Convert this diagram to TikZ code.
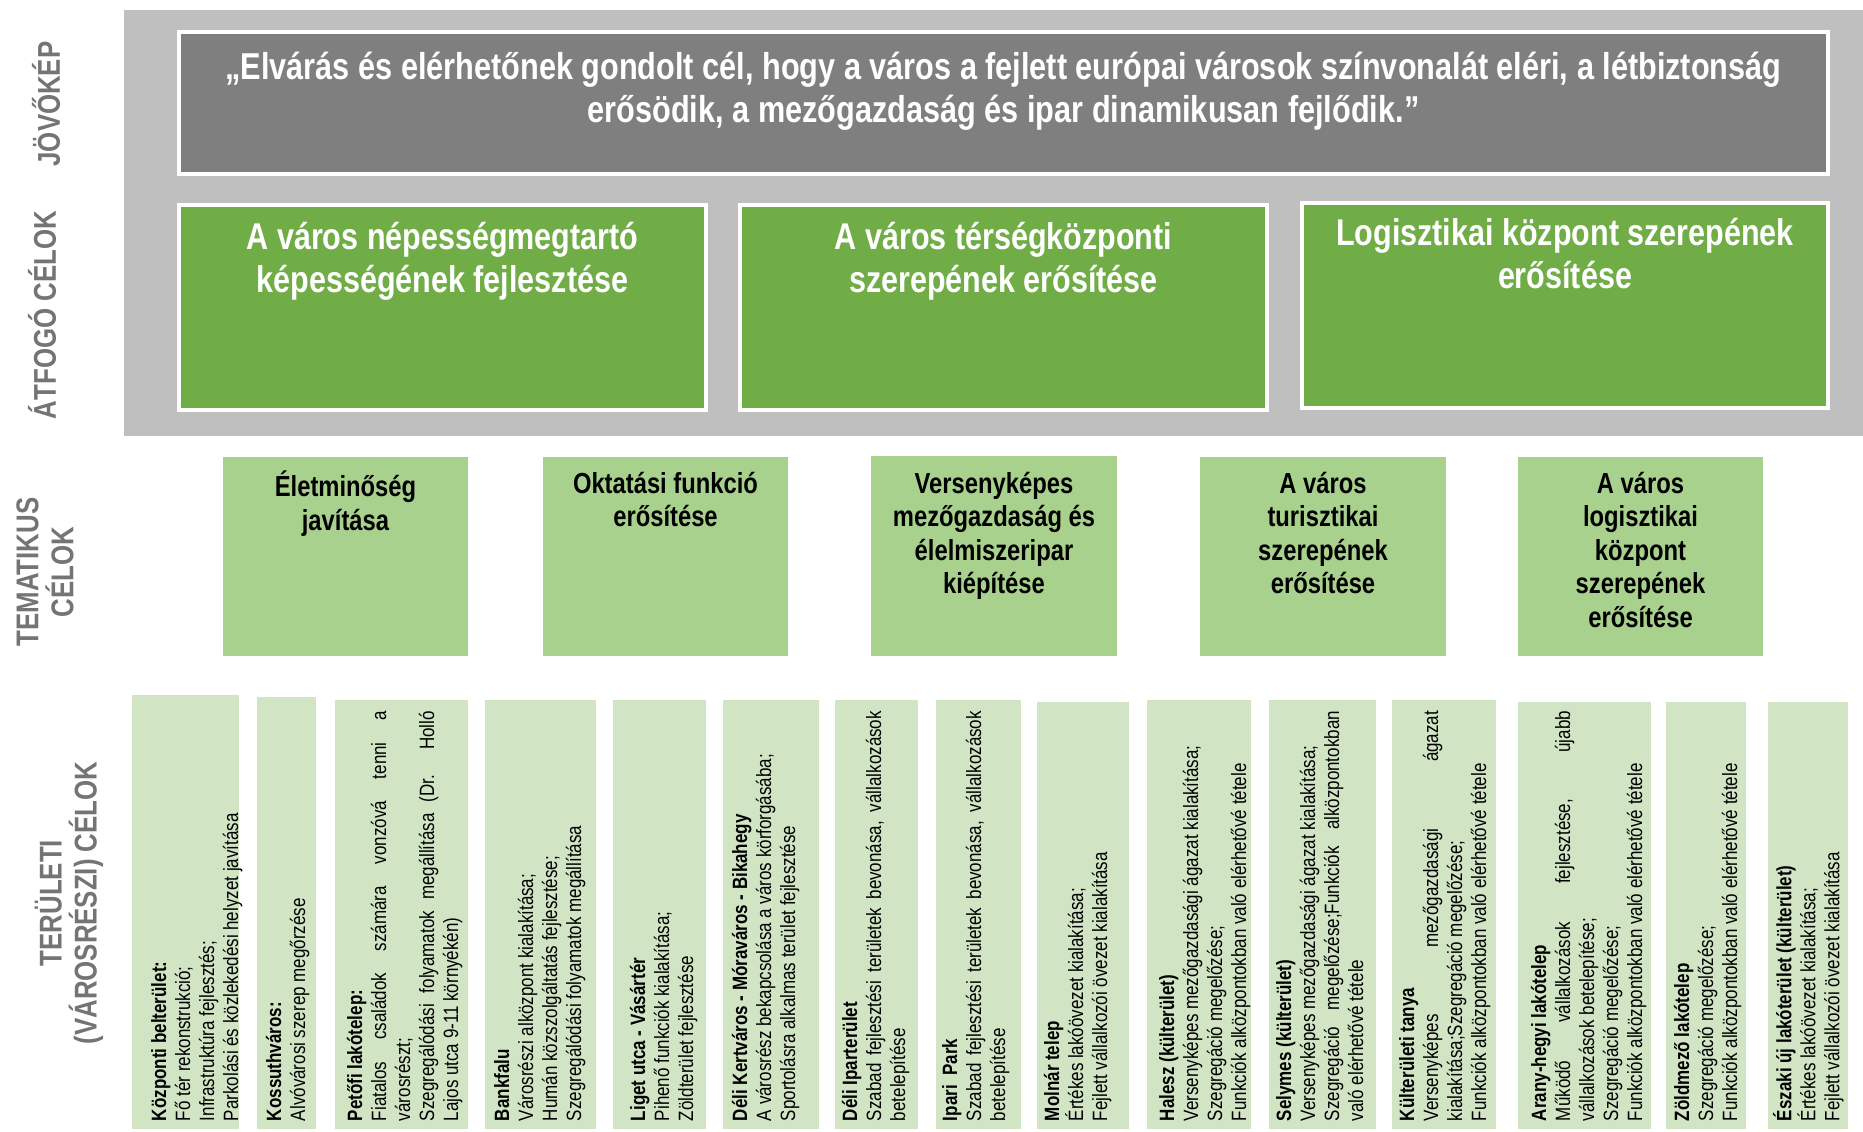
\documentclass[tikz,border=0pt]{standalone}
\usepackage{fontspec}
\setmainfont{Liberation Sans}
\newfontfamily\nf[FakeStretch=0.82]{Liberation Sans}
\definecolor{bggray}{HTML}{BFBFBF}
\definecolor{visiongray}{HTML}{7F7F7F}
\definecolor{goalgreen}{HTML}{70AD47}
\definecolor{themgreen}{HTML}{A9D18E}
\definecolor{tergreen}{HTML}{D1E5C5}
\definecolor{labelgray}{HTML}{747474}
\tolerance=10000
\hbadness=10000
\hyphenpenalty=10000
\exhyphenpenalty=10000
\tikzset{
  pxbox/.style={inner sep=0pt, outer sep=0pt, anchor=north west},
  bgbox/.style={pxbox, fill=bggray},
  visionbox/.style={pxbox, fill=visiongray, draw=white, line width=4pt},
  goalbox/.style={pxbox, fill=goalgreen, draw=white, line width=4pt},
  thembox/.style={pxbox, fill=themgreen},
  terbox/.style={pxbox, fill=tergreen},
  sidelabel/.style={inner sep=0pt, rotate=90, align=center, text=labelgray,
    font=\nf\bfseries\fontsize{31.5}{35}\selectfont},
  visiontext/.style={inner sep=0pt, anchor=north, align=center, text=white,
    font=\nf\bfseries\fontsize{37.4}{42.5}\selectfont},
  goaltext/.style={inner sep=0pt, anchor=north, align=center, text=white,
    font=\nf\bfseries\fontsize{37.2}{43.5}\selectfont},
  themtext/.style={inner sep=0pt, anchor=north, align=center, text=black,
    font=\nf\bfseries\fontsize{29}{33.5}\selectfont},
  tertext/.style={inner sep=0pt, outer sep=0pt, anchor=north west, rotate=90, text=black},
}
% name, x, top, width, height, pad, text
\newcommand{\terulet}[7]{%
  \node[terbox, minimum width=#4pt, minimum height=#5pt] (#1) at (#2,#3) {};
  \node[tertext] (#1t) at ([xshift=#6pt, yshift=8pt]#1.south west)
    {\begin{minipage}{410pt}\nf\fontsize{20.7}{24}\selectfont #7\end{minipage}};
}
\begin{document}
\begin{tikzpicture}[x=1pt,y=-1pt]
\useasboundingbox (0,0) rectangle (1863,1132);
\fill[white] (0,0) rectangle (1863,1132);

% grey background panel
\node[bgbox, minimum width=1739pt, minimum height=426pt] (bg) at (124,10) {};

% vision
\node[visionbox, minimum width=1649pt, minimum height=142pt] (vision) at (179,32) {};
\node[visiontext] (visiont) at ([yshift=-20pt]vision.north)
  {„Elvárás és elérhetőnek gondolt cél, hogy a város a fejlett európai városok színvonalát eléri, a létbiztonság\\
   erősödik, a mezőgazdaság és ipar dinamikusan fejlődik.”};

% overarching goals
\node[goalbox, minimum width=527pt, minimum height=205pt] (g1) at (179,205) {};
\node[goalbox, minimum width=527pt, minimum height=205pt] (g2) at (740,205) {};
\node[goalbox, minimum width=526pt, minimum height=205pt] (g3) at (1302,203) {};
\node[goaltext] (g1t) at ([yshift=-17pt]g1.north) {A város népességmegtartó\\ képességének fejlesztése};
\node[goaltext] (g2t) at ([yshift=-17pt]g2.north) {A város térségközponti\\ szerepének erősítése};
\node[goaltext] (g3t) at ([yshift=-15pt]g3.north) {Logisztikai központ szerepének\\ erősítése};

% thematic goals
\node[thembox, minimum width=245pt, minimum height=199pt] (t1) at (223,457) {};
\node[thembox, minimum width=245pt, minimum height=199pt] (t2) at (543,457) {};
\node[thembox, minimum width=246pt, minimum height=200pt] (t3) at (871,456) {};
\node[thembox, minimum width=246pt, minimum height=199pt] (t4) at (1200,457) {};
\node[thembox, minimum width=245pt, minimum height=199pt] (t5) at (1518,457) {};
\node[themtext] (t1t) at ([yshift=-14pt]t1.north) {Életminőség\\ javítása};
\node[themtext] (t2t) at ([yshift=-15pt]t2.north) {Oktatási funkció\\ erősítése};
\node[themtext] (t3t) at ([yshift=-16pt]t3.north) {Versenyképes\\ mezőgazdaság és\\ élelmiszeripar\\ kiépítése};
\node[themtext] (t4t) at ([yshift=-15pt]t4.north) {A város\\ turisztikai\\ szerepének\\ erősítése};
\node[themtext] (t5t) at ([yshift=-15pt]t5.north) {A város\\ logisztikai\\ központ\\ szerepének\\ erősítése};

% side labels
\node[sidelabel] (lvision) at (46,104) {JÖVŐKÉP};
\node[sidelabel] (lgoal) at (42,315) {ÁTFOGÓ CÉLOK};
\node[sidelabel] (ltheme) at (45,572) {TEMATIKUS\\ CÉLOK};
\node[sidelabel] (lter) at (69,903) {TERÜLETI\\ (VÁROSRÉSZI) CÉLOK};

% territorial goals
\terulet{kb}{132}{695}{107}{434}{19}{\textbf{Központi belterület:}\\ Fő tér rekonstrukció;\\ Infrastruktúra fejlesztés;\\ Parkolási és közlekedési helyzet javítása}
\terulet{kv}{257}{697}{59}{432}{9}{\textbf{Kossuthváros:}\\ Alvóvárosi szerep megőrzése}
\terulet{pl}{335}{700}{133}{429}{12}{\textbf{Petőfi lakótelep:}\\ Fiatalos családok számára vonzóvá tenni a\linebreak városrészt;\\ Szegregálódási folyamatok megállítása (Dr. Holló\linebreak Lajos utca 9-11 környékén)}
\terulet{bf}{485}{700}{111}{429}{9}{\textbf{Bankfalu}\\ Városrészi alközpont kialakítása;\\ Humán közszolgáltatás fejlesztése;\\ Szegregálódási folyamatok megállítása}
\terulet{lu}{613}{700}{93}{429}{17}{\textbf{Liget utca - Vásártér}\\ Pihenő funkciók kialakítása;\\ Zöldterület fejlesztése}
\terulet{dk}{723}{700}{96}{429}{9}{\textbf{Déli Kertváros - Móraváros - Bikahegy}\\ A városrész bekapcsolása a város körforgásába;\\ Sportolásra alkalmas terület fejlesztése}
\terulet{di}{835}{700}{83}{429}{7}{\textbf{Déli Iparterület}\\ Szabad fejlesztési területek bevonása, vállalkozások\linebreak betelepítése}
\terulet{ip}{936}{700}{85}{429}{6}{\textbf{Ipari\ \ Park}\\ Szabad fejlesztési területek bevonása, vállalkozások\linebreak betelepítése}
\terulet{mt}{1037}{702}{92}{427}{7}{\textbf{Molnár telep}\\ Értékes lakóövezet kialakítása;\\ Fejlett vállalkozói övezet kialakítása}
\terulet{hl}{1147}{700}{104}{429}{12}{\textbf{Halesz (külterület)}\\ Versenyképes mezőgazdasági ágazat kialakítása;\\ Szegregáció megelőzése;\\ Funkciók alközpontokban való elérhetővé tétele}
\terulet{sl}{1269}{700}{107}{429}{7}{\textbf{Selymes (külterület)}\\ Versenyképes mezőgazdasági ágazat kialakítása;\\ Szegregáció megelőzése;Funkciók alközpontokban\linebreak való elérhetővé tétele}
\terulet{kt}{1392}{700}{104}{429}{7}{\textbf{Külterületi tanya}\\ Versenyképes mezőgazdasági ágazat\linebreak kialakítása;Szegregáció megelőzése;\\ Funkciók alközpontokban való elérhetővé tétele}
\terulet{ah}{1518}{702}{133}{427}{13}{\textbf{Arany-hegyi lakótelep}\\ Működő vállalkozások fejlesztése, újabb\linebreak vállalkozások betelepítése;\\ Szegregáció megelőzése;\\ Funkciók alközpontokban való elérhetővé tétele}
\terulet{zm}{1666}{702}{80}{427}{8}{\textbf{Zöldmező lakótelep}\\ Szegregáció megelőzése;\\ Funkciók alközpontokban való elérhetővé tétele}
\terulet{ek}{1768}{702}{80}{427}{5}{\textbf{Északi új lakóterület (külterület)}\\ Értékes lakóövezet kialakítása;\\ Fejlett vállalkozói övezet kialakítása}
\end{tikzpicture}
\end{document}
